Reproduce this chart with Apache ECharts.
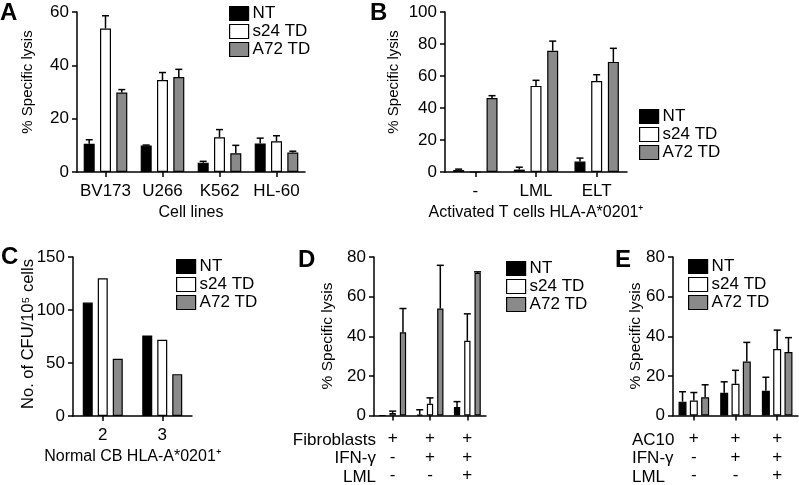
<!DOCTYPE html>
<html><head><meta charset="utf-8">
<script src="https://cdn.jsdelivr.net/npm/echarts@6/dist/echarts.min.js"></script>
<style>html,body{margin:0;padding:0;background:#fff}#c{width:799px;height:485px}</style>
</head><body><div id="c"></div>
<script>
const seriesNames = ['NT', 's24 TD', 'A72 TD'];
// Panel A
const catsA = ['BV173', 'U266', 'K562', 'HL-60'];
const ntA = [10.6, 9.9, 3.5, 10.7];
const ntAErr = [1.5, 0.2, 0.5, 2.0];
const s24A = [53.8, 34.5, 13.0, 11.5];
const s24AErr = [4.8, 2.8, 2.9, 2.1];
const a72A = [29.8, 35.6, 7.0, 7.3];
const a72AErr = [1.1, 2.9, 3.0, 0.5];
// Panel B
const catsB = ['-', 'LML', 'ELT'];
const ntB = [1.2, 1.5, 6.5];
const ntBErr = [0.6, 1.5, 2.2];
const s24B = [0, 53.8, 56.8];
const s24BErr = [0, 3.5, 4.0];
const a72B = [46.2, 75.8, 68.8];
const a72BErr = [1.5, 6.0, 8.5];
// Panel C
const catsC = ['2', '3'];
const ntC = [107, 76];
const s24C = [130, 72];
const a72C = [54, 39.5];
// Panel D
const rowsD = ['Fibroblasts', 'IFN-γ', 'LML'];
const fibroD = ['+', '+', '+'];
const ifnD = ['-', '+', '+'];
const lmlD = ['-', '-', '+'];
const ntD = [0, 0.4, 4.3];
const ntDErr = [0, 2.5, 2.7];
const s24D = [1.3, 5.9, 37.7];
const s24DErr = [0.9, 3.0, 13.6];
const a72D = [42, 54, 72];
const a72DErr = [12, 21.8, 0.5];
// Panel E
const rowsE = ['AC10', 'IFN-γ', 'LML'];
const ac10E = ['+', '+', '+'];
const ifnE = ['-', '+', '+'];
const lmlE = ['-', '-', '+'];
const ntE = [7.0, 11.5, 12.5];
const ntEErr = [5.0, 5.5, 6.8];
const s24E = [7.6, 16.0, 33.6];
const s24EErr = [4.0, 6.8, 9.5];
const a72E = [9.2, 27.2, 32.0];
const a72EErr = [6.3, 9.7, 7.3];

const FONT = '"Liberation Sans", Arial, Helvetica, sans-serif';
const colors = ['#000000', '#ffffff', '#8a8a8a'];

const panels = [
  { grid: {left: 77, top: 12, width: 228, height: 160}, cats: catsA,
    vals: [ntA, s24A, a72A], errs: [ntAErr, s24AErr, a72AErr],
    y: {max: 60, interval: 20}, barW: 11, gap: 5.3,
    yName: '% Specific lysis', yPos: [28, 82], yFont: 15,
    xName: 'Cell lines', xGap: 33, labelMargin: 9,
    legend: {left: 224, top: 0} },
  { grid: {left: 445, top: 12, width: 182, height: 160}, cats: catsB,
    vals: [ntB, s24B, a72B], errs: [ntBErr, s24BErr, a72BErr],
    y: {max: 100, interval: 20}, barW: 11, gap: 5.7,
    yName: '% Specific lysis', yPos: [394, 82], yFont: 15,
    xName: 'Activated T cells HLA-A*0201⁺', xGap: 33, labelMargin: 9,
    legend: {left: 634, top: 103} },
  { grid: {left: 73, top: 257, width: 119, height: 159}, cats: catsC,
    vals: [ntC, s24C, a72C], errs: null,
    y: {max: 150, interval: 50}, barW: 10, gap: 5,
    yName: 'No. of CFU/10⁵ cells', yPos: [28, 334], yFont: 16.5,
    xName: 'Normal CB HLA-A*0201⁺', xGap: 33, labelMargin: 9,
    legend: {left: 171, top: 253} },
  { grid: {left: 374, top: 257, width: 112, height: 160},
    cats: fibroD.map((f, i) => f + '\n' + ifnD[i] + '\n' + lmlD[i]),
    vals: [ntD, s24D, a72D], errs: [ntDErr, s24DErr, a72DErr],
    y: {max: 80, interval: 20}, barW: 6.3, gap: 4,
    yName: '% Specific lysis', yPos: [328, 336], yFont: 15.5,
    xName: '', labelMargin: 14, lineHeight: 18.5,
    legend: {left: 501, top: 255} },
  { grid: {left: 673, top: 257, width: 125, height: 160},
    cats: ac10E.map((f, i) => f + '\n' + ifnE[i] + '\n' + lmlE[i]),
    vals: [ntE, s24E, a72E], errs: [ntEErr, s24EErr, a72EErr],
    y: {max: 80, interval: 20}, barW: 8, gap: 3.3,
    yName: '% Specific lysis', yPos: [636, 336], yFont: 15.5,
    xName: '', labelMargin: 14, lineHeight: 18.5,
    legend: {left: 683, top: 253} }
];

const axisLine = {show: true, lineStyle: {color: '#000', width: 1.5}};
const axisTick = {show: true, length: 5, lineStyle: {color: '#000', width: 1.5}};

const option = {
  animation: false,
  backgroundColor: '#fff',
  textStyle: {fontFamily: FONT, color: '#000'},
  grid: [], xAxis: [], yAxis: [], series: [], legend: [],
  graphic: []
};

function errRender(offset, capHalf) {
  return function (params, api) {
    const e = api.value(2);
    if (!(e > 0)) return;
    const c = api.value(0), v = api.value(1);
    const p0 = api.coord([c, v]);
    const p1 = api.coord([c, v + e]);
    const x = p0[0] + offset;
    return {type: 'group', children: [
      {type: 'line', shape: {x1: x, y1: p0[1], x2: x, y2: p1[1]}, style: {stroke: '#000', lineWidth: 1.5}},
      {type: 'line', shape: {x1: x - capHalf, y1: p1[1], x2: x + capHalf, y2: p1[1]}, style: {stroke: '#000', lineWidth: 1.5}}
    ]};
  };
}

panels.forEach((p, gi) => {
  option.grid.push(Object.assign({containLabel: false}, p.grid));
  option.xAxis.push({
    type: 'category', gridIndex: gi, data: p.cats,
    axisLine: axisLine, axisTick: Object.assign({alignWithLabel: true}, axisTick),
    axisLabel: {interval: 0, margin: p.labelMargin, fontSize: 17, color: '#000', fontFamily: FONT,
      lineHeight: p.lineHeight || 20},
    name: p.xName, nameLocation: 'middle', nameGap: p.xGap || 30,
    nameTextStyle: {fontSize: 16, color: '#000', fontFamily: FONT}
  });
  option.yAxis.push({
    type: 'value', gridIndex: gi, min: 0, max: p.y.max, interval: p.y.interval,
    axisLine: axisLine, axisTick: axisTick, splitLine: {show: false},
    axisLabel: {margin: 8, fontSize: 17, color: '#000', fontFamily: FONT}
  });
  option.graphic.push({
    type: 'text', x: p.yPos[0], y: p.yPos[1], rotation: Math.PI / 2,
    style: {x: 0, y: 0, text: p.yName, align: 'center', verticalAlign: 'middle',
      font: p.yFont + 'px ' + FONT, fill: '#000'}
  });
  const gapPct = (p.gap / p.barW * 100).toFixed(1) + '%';
  p.vals.forEach((vals, k) => {
    option.series.push({
      type: 'bar', name: seriesNames[k], xAxisIndex: gi, yAxisIndex: gi,
      data: vals, barWidth: p.barW, barGap: gapPct,
      itemStyle: {color: colors[k], borderColor: '#000', borderWidth: 1.2},
      z: 3
    });
  });
  if (p.errs) {
    p.errs.forEach((errs, k) => {
      const offset = (k - 1) * (p.barW + p.gap);
      option.series.push({
        type: 'custom', xAxisIndex: gi, yAxisIndex: gi,
        renderItem: errRender(offset, 3.5),
        data: p.vals[k].map((v, i) => [i, v, errs[i]]),
        encode: {x: 0, y: 1}, z: 2, silent: true
      });
    });
  }
  option.legend.push({
    data: seriesNames, left: p.legend.left, top: p.legend.top, orient: 'vertical',
    itemWidth: 19, itemHeight: 14, itemGap: 1, selectedMode: false, icon: 'rect',
    textStyle: {fontSize: 17, color: '#000', fontFamily: FONT, padding: [0, 0, 0, -1]},
    itemStyle: {borderColor: '#000', borderWidth: 1.2}
  });
});

// Row titles for panels D and E
option.graphic.push({type: 'text', style: {x: 376, y: 431, text: rowsD.join('\n'), align: 'right',
  verticalAlign: 'top', lineHeight: 18.5, font: '17px ' + FONT, fill: '#000'}});
option.graphic.push({type: 'text', style: {x: 632, y: 431, text: rowsE.join('\n'), align: 'left',
  verticalAlign: 'top', lineHeight: 18.5, font: '17px ' + FONT, fill: '#000'}});
// Panel letters
[['A', 0, 1], ['B', 370, 1], ['C', 1, 245], ['D', 298, 248], ['E', 615, 248]].forEach(([t, x, y]) => {
  option.graphic.push({type: 'text', style: {x: x, y: y, text: t, font: '900 24px ' + FONT, fill: '#000'}});
});

const chart = echarts.init(document.getElementById('c'), null, {renderer: 'canvas'});
chart.setOption(option);
</script></body></html>
